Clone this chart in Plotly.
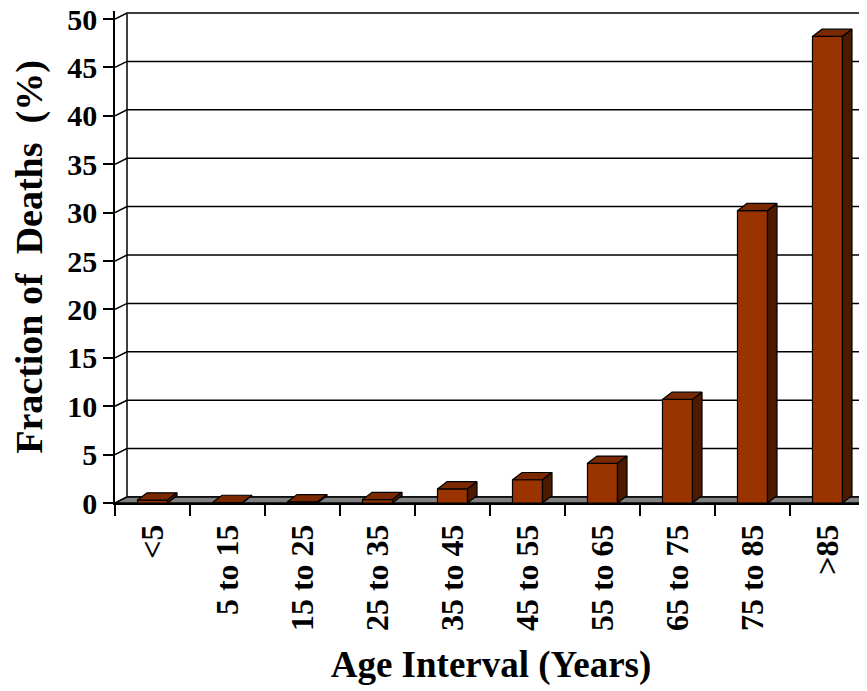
import plotly.graph_objects as go

# ---- data ----
categories = ["<5", "5 to 15", "15 to 25", "25 to 35", "35 to 45",
              "45 to 55", "55 to 65", "65 to 75", "75 to 85", ">85"]
fractions = [0.3, 0.05, 0.12, 0.35, 1.45, 2.4, 4.1, 10.7, 30.2, 48.2]
y_ticks = [0, 5, 10, 15, 20, 25, 30, 35, 40, 45, 50]

# ---- styling ----
FRONT = "#993300"
TOP = "#7a2900"
SIDE = "#4d1a00"
FLOOR = "#808080"
FONT = "Liberation Serif"

x_lo, x_hi = -0.5, 9.527
y_hi = 50.83
fdx, fdy = 0.16, 0.62     # depth of walls / floor
bdx, bdy = 0.127, 0.75    # depth of bars
bw = 0.4                  # bar width

xs = list(range(len(categories)))

# back wall gridlines with side-wall connectors
gx, gy = [], []
for v in y_ticks:
    gx += [x_lo, x_lo + fdx, x_hi, None]
    gy += [v, v + fdy, v + fdy, None]
gx += [x_lo + fdx, x_lo + fdx]
gy += [fdy, y_ticks[-1] + fdy]

# floor
flx = [x_lo, x_hi, x_hi, x_lo + fdx, x_lo]
fly = [0, 0, fdy, fdy, 0]

# bar top and side faces
tx, ty, sx, sy = [], [], [], []
for i, v in zip(xs, fractions):
    l, r = i - bw / 2, i + bw / 2
    tx += [l, l + bdx, r + bdx, r, l, None]
    ty += [v, v + bdy, v + bdy, v, v, None]
    sx += [r, r + bdx, r + bdx, r, r, None]
    sy += [0, bdy, v + bdy, v, 0, None]

fig = go.Figure()
fig.add_trace(go.Scatter(x=gx, y=gy, mode="lines",
                         line=dict(color="black", width=1.5),
                         hoverinfo="skip", xaxis="x", yaxis="y"))
fig.add_trace(go.Scatter(x=flx, y=fly, mode="lines", fill="toself",
                         fillcolor=FLOOR, line=dict(color="black", width=1.5),
                         hoverinfo="skip", xaxis="x", yaxis="y"))
fig.add_trace(go.Bar(x=xs, y=fractions, width=bw, marker_color=FRONT,
                     marker_line=dict(color="black", width=1.2),
                     xaxis="x2", yaxis="y"))
fig.add_trace(go.Scatter(x=tx, y=ty, mode="lines", fill="toself",
                         fillcolor=TOP, line=dict(color="black", width=1.2),
                         hoverinfo="skip", xaxis="x2", yaxis="y"))
fig.add_trace(go.Scatter(x=sx, y=sy, mode="lines", fill="toself",
                         fillcolor=SIDE, line=dict(color="black", width=1.2),
                         hoverinfo="skip", xaxis="x2", yaxis="y"))

# page body adds an 8px offset, so the figure is sized/margined to compensate
fig.update_layout(
    width=859, height=683,
    margin=dict(l=107, r=0, t=3, b=188),
    paper_bgcolor="white", plot_bgcolor="white",
    showlegend=False, hovermode=False,
    font=dict(family=FONT, color="black"),
    xaxis=dict(range=[x_lo, x_hi],
               tickvals=[i - 0.5 for i in range(len(categories) + 1)],
               ticks="outside", ticklen=11, tickwidth=1.5, tickcolor="black",
               showticklabels=False, showgrid=False, zeroline=False,
               showline=True, linecolor="black", linewidth=1.5,
               fixedrange=True),
    xaxis2=dict(overlaying="x", anchor="y", side="bottom",
                range=[x_lo, x_hi], tickvals=xs, ticktext=categories,
                ticks="", tickangle=-90, ticklabelstandoff=14,
                ticklabeloverflow="allow",
                tickfont=dict(family=FONT, size=32, weight="bold"),
                showgrid=False, zeroline=False, showline=False,
                title=dict(text="Age Interval (Years)", standoff=21,
                           font=dict(family=FONT, size=37, weight="bold")),
                automargin=False, fixedrange=True),
    yaxis=dict(range=[0, y_hi], tickvals=y_ticks,
               ticks="outside", ticklen=10, tickwidth=1.5, tickcolor="black",
               showline=True, linecolor="black", linewidth=1.5,
               showgrid=False, zeroline=False, ticklabeloverflow="allow",
               tickfont=dict(family=FONT, size=30, weight="bold"),
               title=dict(text="Fraction of\u00a0\u00a0Deaths\u00a0\u00a0(%)",
                          standoff=16,
                          font=dict(family=FONT, size=38, weight="bold")),
               automargin=False, fixedrange=True),
)

fig.write_html("out.html")
